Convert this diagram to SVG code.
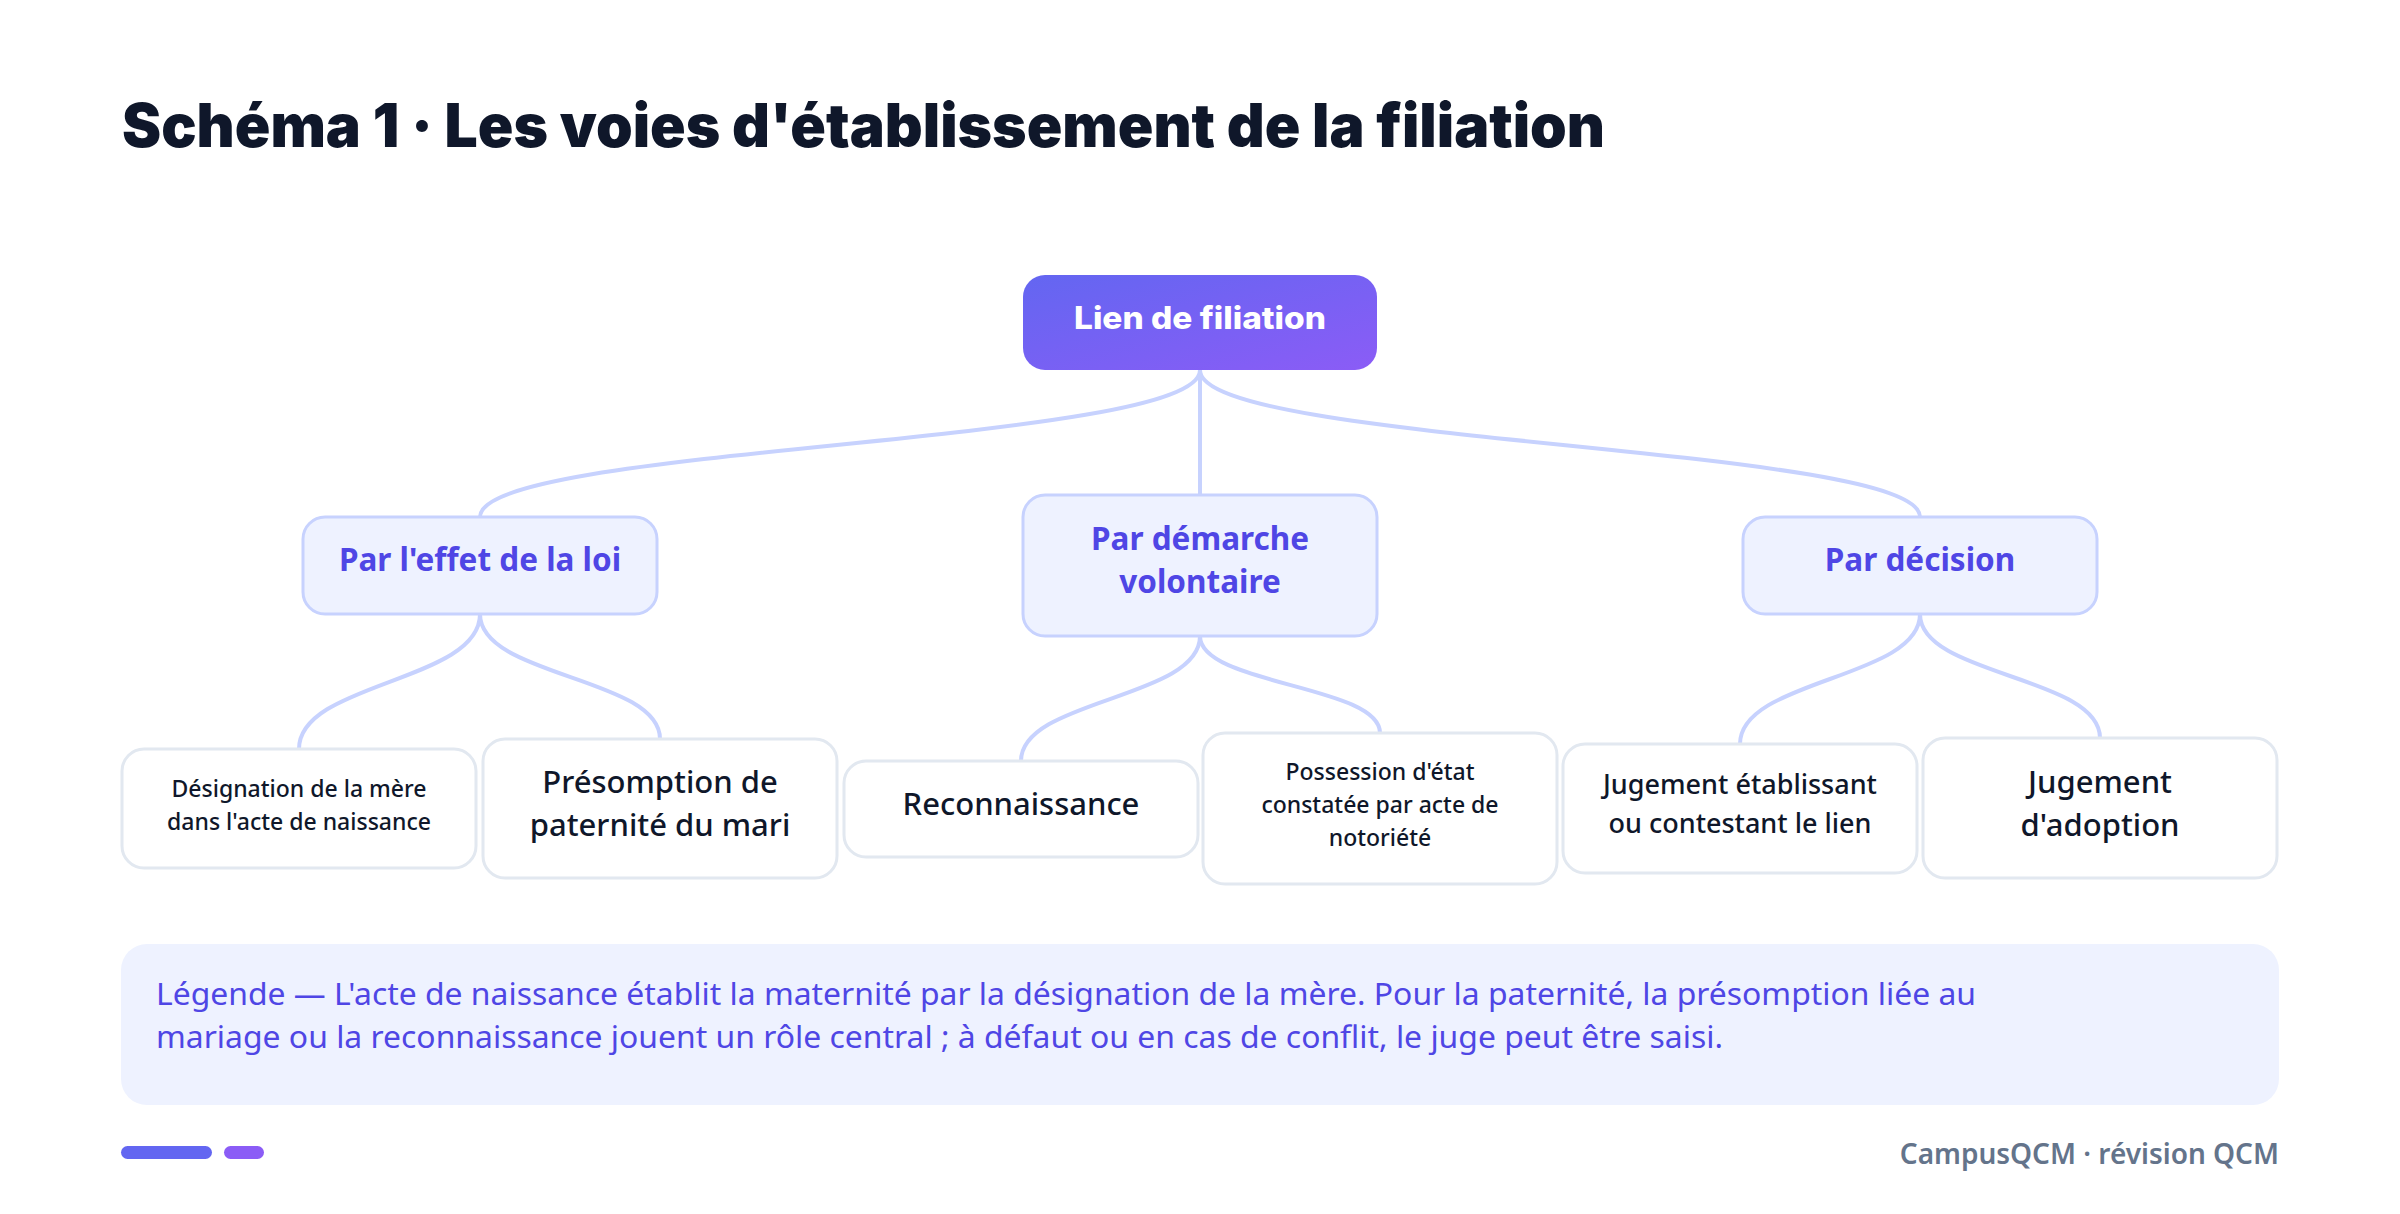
<svg xmlns="http://www.w3.org/2000/svg" width="2400" height="1214" viewBox="0 0 2400 1214">
<defs>
<linearGradient id="gRoot" x1="0" y1="0" x2="1" y2="1">
<stop offset="0" stop-color="#6366f1"/>
<stop offset="1" stop-color="#8b5cf6"/>
</linearGradient>
<style>
.title{font-family:"Inter","Lato","Noto Sans",sans-serif;font-weight:900;font-size:60px;fill:#0f172a}
.root-text{font-family:"Inter","Lato",sans-serif;font-weight:800;font-size:31px;fill:#ffffff;text-anchor:middle}
.cat{fill:#eef2ff;stroke:#c7d2fe;stroke-width:3}
.cat-text{font-family:"Noto Sans","Open Sans",sans-serif;font-weight:700;font-size:31.5px;fill:#4f46e5;text-anchor:middle}
.leaf{fill:#ffffff;stroke:#e2e8f0;stroke-width:3}
.leaf-text{font-family:"Noto Sans","Open Sans",sans-serif;font-weight:500;fill:#0f172a;text-anchor:middle}
.s24{font-size:23px}
.s28{font-size:27px}
.s32{font-size:31px}
.conn{fill:none;stroke:#c7d2fe;stroke-width:4;stroke-linecap:round}
.legend{fill:#eef2ff}
.legend-text{font-family:"Noto Sans","Open Sans",sans-serif;font-size:31px;fill:#4f46e5}
.footer{font-family:"Noto Sans","Open Sans",sans-serif;font-weight:600;font-size:28px;fill:#64748b;text-anchor:end}
</style>
</defs>
<rect width="2400" height="1214" fill="#ffffff"/>
<text class="title" x="122" y="147" textLength="1483" lengthAdjust="spacingAndGlyphs">Schéma 1 · Les voies d'établissement de la filiation</text>

<g id="connectors">
<path class="conn" d="M1200,370 C1200,445 480,445 480,517"/>
<path class="conn" d="M1200,370 L1200,495"/>
<path class="conn" d="M1200,370 C1200,445 1920,445 1920,517"/>
<path class="conn" d="M480,614 C480,682 299,682 299,749"/>
<path class="conn" d="M480,614 C480,677 660,677 660,739"/>
<path class="conn" d="M1200,636 C1200,699 1021,699 1021,761"/>
<path class="conn" d="M1200,636 C1200,685 1380,685 1380,733"/>
<path class="conn" d="M1920,614 C1920,679 1740,679 1740,744"/>
<path class="conn" d="M1920,614 C1920,676 2100,676 2100,738"/>
</g>

<g id="root">
<rect x="1023" y="275" width="354" height="95" rx="22" fill="url(#gRoot)"/>
<text class="root-text" x="1200" y="329" textLength="252" lengthAdjust="spacingAndGlyphs">Lien de filiation</text>
</g>

<g id="cat-loi">
<rect class="cat" x="303" y="517" width="354" height="97" rx="22"/>
<text class="cat-text" x="480" y="571">Par l'effet de la loi</text>
</g>
<g id="cat-volontaire">
<rect class="cat" x="1023" y="495" width="354" height="141" rx="22"/>
<text class="cat-text" x="1200" y="550">Par démarche</text>
<text class="cat-text" x="1200" y="593">volontaire</text>
</g>
<g id="cat-decision">
<rect class="cat" x="1743" y="517" width="354" height="97" rx="22"/>
<text class="cat-text" x="1920" y="571">Par décision</text>
</g>

<g id="leaf-designation">
<rect class="leaf" x="122" y="749" width="354" height="119" rx="22"/>
<text class="leaf-text s24" x="299" y="797">Désignation de la mère</text>
<text class="leaf-text s24" x="299" y="830">dans l'acte de naissance</text>
</g>
<g id="leaf-presomption">
<rect class="leaf" x="483" y="739" width="354" height="139" rx="22"/>
<text class="leaf-text s32" x="660" y="793">Présomption de</text>
<text class="leaf-text s32" x="660" y="836">paternité du mari</text>
</g>
<g id="leaf-reconnaissance">
<rect class="leaf" x="844" y="761" width="354" height="96" rx="22"/>
<text class="leaf-text s32" x="1021" y="815">Reconnaissance</text>
</g>
<g id="leaf-possession">
<rect class="leaf" x="1203" y="733" width="354" height="151" rx="22"/>
<text class="leaf-text s24" x="1380" y="780">Possession d'état</text>
<text class="leaf-text s24" x="1380" y="813">constatée par acte de</text>
<text class="leaf-text s24" x="1380" y="846">notoriété</text>
</g>
<g id="leaf-jugement">
<rect class="leaf" x="1563" y="744" width="354" height="129" rx="22"/>
<text class="leaf-text s28" x="1740" y="794">Jugement établissant</text>
<text class="leaf-text s28" x="1740" y="833">ou contestant le lien</text>
</g>
<g id="leaf-adoption">
<rect class="leaf" x="1923" y="738" width="354" height="140" rx="22"/>
<text class="leaf-text s32" x="2100" y="793">Jugement</text>
<text class="leaf-text s32" x="2100" y="836">d'adoption</text>
</g>

<g id="legend">
<rect class="legend" x="121" y="944" width="2158" height="161" rx="26"/>
<text class="legend-text" x="156" y="1005" textLength="1820" lengthAdjust="spacingAndGlyphs">Légende — L'acte de naissance établit la maternité par la désignation de la mère. Pour la paternité, la présomption liée au</text>
<text class="legend-text" x="156" y="1048" textLength="1567" lengthAdjust="spacingAndGlyphs">mariage ou la reconnaissance jouent un rôle central ; à défaut ou en cas de conflit, le juge peut être saisi.</text>
</g>

<g id="footer">
<rect x="121" y="1146" width="91" height="13" rx="6.5" fill="#6366f1"/>
<rect x="224" y="1146" width="40" height="13" rx="6.5" fill="#8b5cf6"/>
<text class="footer" x="2279" y="1164">CampusQCM · révision QCM</text>
</g>
</svg>
